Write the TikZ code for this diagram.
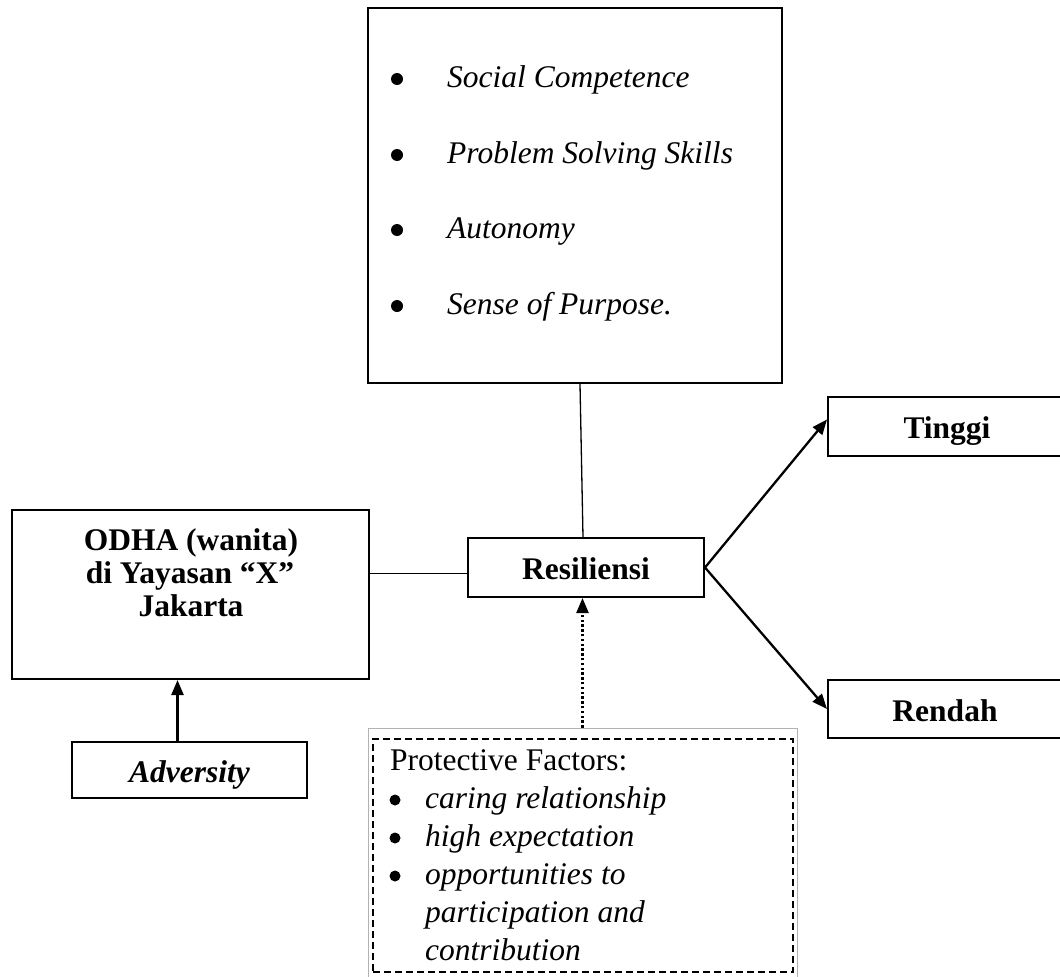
\documentclass[tikz,border=0pt]{standalone}
\usepackage{fontspec}
\setmainfont{Liberation Serif}
\usetikzlibrary{arrows.meta}
\begin{document}
\begin{tikzpicture}[x=1pt,y=-1pt,
  font=\fontsize{31.5}{37}\selectfont,
  box/.style={draw, line width=2pt, inner sep=0pt, minimum width=#1},
  txt/.style={inner sep=0pt, anchor=base},
  itm/.style={inner sep=0pt, anchor=base west, font=\fontsize{31.5}{37}\selectfont\itshape},
  bul/.style={circle, fill, inner sep=0pt, minimum size=#1},
  arr/.style={line width=2.3pt, -{Triangle[length=15pt,width=12pt]}},
  thin/.style={line width=1.3pt}]
\useasboundingbox (0,0) rectangle (1060,977);
\clip (0,0) rectangle (1060,977);

% boxes
\node[box=414pt, minimum height=375pt] (top) at (575,195.5) {};
\node[box=236pt, minimum height=59pt] (res) at (586,567.5) {};
\node[box=357pt, minimum height=169pt] (odha) at (190.5,594.5) {};
\node[box=235pt, minimum height=56pt] (adv) at (189.5,770) {};
\node[box=238pt, minimum height=59pt] (tinggi) at (947,426.5) {};
\node[box=238pt, minimum height=58pt] (rendah) at (947,709) {};
\node[draw=gray!60, line width=1pt, inner sep=0pt, minimum width=429pt, minimum height=256pt] (protframe) at (582.5,856) {};
\node[draw, line width=2pt, dash pattern=on 7pt off 4pt, inner sep=0pt, minimum width=420pt, minimum height=233pt] (prot) at (583,855.5) {};

% top box list
\node[bul=12pt] (b1) at (397,79) {};
\node[itm] (t1) at (447,87) {Social Competence};
\node[bul=12pt] (b2) at (397,155) {};
\node[itm] (t2) at (447,163) {Problem Solving Skills};
\node[bul=12pt] (b3) at (397,230) {};
\node[itm] (t3) at (447,238) {Autonomy};
\node[bul=12pt] (b4) at (397,306) {};
\node[itm] (t4) at (447,314) {Sense of Purpose.};

% labels
\node[txt] (lres) at (586,579) {\bfseries Resiliensi};
\node[txt] (ltinggi) at (947,438) {\bfseries Tinggi};
\node[txt] (lrendah) at (945,721) {\bfseries Rendah};
\node[txt] (lodha1) at (191,550) {\bfseries ODHA (wanita)};
\node[txt] (lodha2) at (190,583) {\bfseries di Yayasan “X”};
\node[txt] (lodha3) at (191,616) {\bfseries Jakarta};
\node[txt] (ladv) at (189.5,782) {\bfseries\itshape Adversity};

% protective factors
\node[inner sep=0pt, anchor=base west] (pf) at (390,770) {Protective Factors:};
\node[bul=11pt] (pb1) at (395,800) {};
\node[itm] (p1) at (425,808) {caring relationship};
\node[bul=11pt] (pb2) at (395,838) {};
\node[itm] (p2) at (425,846) {high expectation};
\node[bul=11pt] (pb3) at (395,876) {};
\node[itm] (p3) at (425,884) {opportunities to};
\node[itm] (p4) at (425,922) {participation and};
\node[itm] (p5) at (425,960) {contribution};

% connectors
\draw[thin] ([xshift=5pt]top.south) -- ([xshift=-3pt]res.north);
\draw[thin] ([yshift=-6pt]res.west) -- ([yshift=-6pt]res.west -| odha.east);
\draw[arr] ([xshift=-12pt]adv.north) -- ([xshift=-12pt]adv.north |- odha.south);
\draw[arr] (res.east) -- ([yshift=7pt]tinggi.west);
\draw[arr] (res.east) -- (rendah.west);
\draw[line width=2.4pt, dash pattern=on 2.4pt off 2.4pt, -{Triangle[length=15pt,width=12pt]}] (protframe.north) -- (protframe.north |- res.south);
\end{tikzpicture}
\end{document}
